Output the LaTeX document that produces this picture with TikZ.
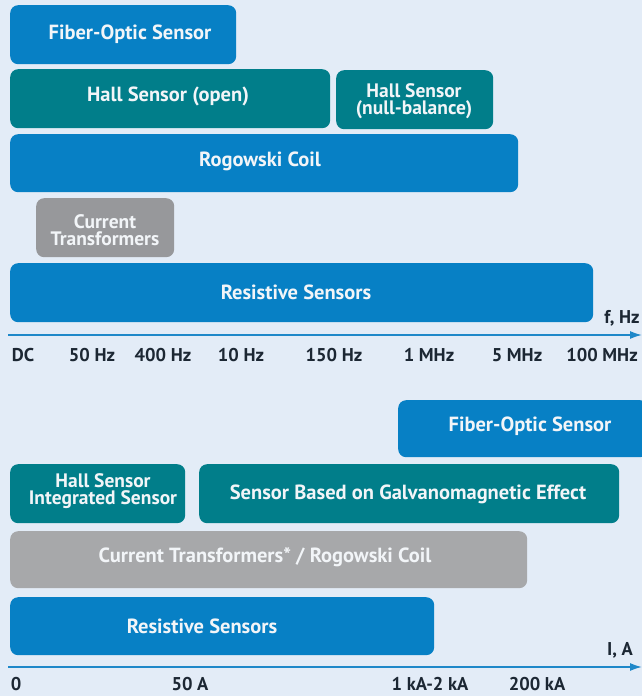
\documentclass[tikz,border=0pt]{standalone}
\usepackage{fontspec}
\setmainfont{PT Sans}
\usetikzlibrary{arrows.meta}
\definecolor{bg}{HTML}{E3ECF7}
\definecolor{cblue}{HTML}{0780C5}
\definecolor{cteal}{HTML}{017E8A}
\definecolor{cgrayA}{HTML}{97989B}
\definecolor{cgrayB}{HTML}{A7A8AA}
\definecolor{caxis}{HTML}{1E88C9}
\definecolor{ctext}{HTML}{1C2733}
\definecolor{cwhite}{HTML}{F2F5F8}
\tikzset{
  box/.style={rounded corners=8pt, inner sep=0pt, anchor=north west, draw=none},
  lbl/.style={text=cwhite, font=\bfseries\fontsize{20.5}{20}\selectfont, align=center, inner sep=0pt},
  lbltwo/.style={text=cwhite, font=\bfseries\fontsize{19.5}{16.5}\selectfont, align=center, inner sep=0pt},
  tick/.style={text=ctext, font=\bfseries\fontsize{18.5}{19}\selectfont, inner sep=0pt},
  axisline/.style={draw=caxis, line width=1.6pt, -{Latex[length=12pt,width=8pt]}}
}
\begin{document}
\begin{tikzpicture}[x=1pt,y=-1pt]
\fill[bg] (0,0) rectangle (642,696);
\useasboundingbox (0,0) rectangle (642,696);
% ---- frequency section
\node[box, fill=cblue, minimum width=226pt, minimum height=59pt] (fo1) at (10,5) {};
\node[lbl] (fo1t) at (130,34) {Fiber-Optic Sensor};
\node[box, fill=cteal, minimum width=320pt, minimum height=59pt] (ho) at (10,69) {};
\node[lbl] (hot) at (168,96) {Hall Sensor (open)};
\node[box, fill=cteal, minimum width=157pt, minimum height=59pt] (hn) at (336,70) {};
\node[lbltwo] (hnt) at (414,101) {Hall Sensor\\(null-balance)};
\node[box, fill=cblue, minimum width=508pt, minimum height=58pt] (rc) at (10,134) {};
\node[lbl] (rct) at (260,161) {Rogowski Coil};
\node[box, fill=cgrayA, minimum width=138pt, minimum height=59pt] (ct) at (36,198) {};
\node[lbltwo] (ctt) at (105,230) {Current\\Transformers};
\node[box, fill=cblue, minimum width=583pt, minimum height=59pt] (rs1) at (10,263) {};
\node[lbl] (rs1t) at (296,292) {Resistive Sensors};
\coordinate (f0) at (8,335);
\coordinate (f1) at (642,335);
\draw[axisline] (f0) -- (f1);
\node[tick] (fl) at (622,318) {f, Hz};
\node[tick] (t1) at (23,355) {DC};
\node[tick] (t2) at (92,355) {50 Hz};
\node[tick] (t3) at (163,355) {400 Hz};
\node[tick] (t4) at (241,355) {10 Hz};
\node[tick] (t5) at (334,355) {150 Hz};
\node[tick] (t6) at (429,355) {1 MHz};
\node[tick] (t7) at (517,355) {5 MHz};
\node[tick] (t8) at (602,355) {100 MHz};
% ---- current section
\node[box, fill=cblue, minimum width=250pt, minimum height=57pt] (fo2) at (398,400) {};
\node[lbl] (fo2t) at (530,426) {Fiber-Optic Sensor};
\node[box, fill=cteal, minimum width=175pt, minimum height=59pt] (hi) at (10,464) {};
\node[lbltwo] (hit) at (103,491) {Hall Sensor\\Integrated Sensor};
\node[box, fill=cteal, minimum width=420pt, minimum height=59pt] (gm) at (199,464) {};
\node[lbl] (gmt) at (408,494) {Sensor Based on Galvanomagnetic Effect};
\node[box, fill=cgrayB, minimum width=517pt, minimum height=57pt] (cr) at (10,531) {};
\node[lbl] (crt) at (265,557) {Current Transformers* / Rogowski Coil};
\node[box, fill=cblue, minimum width=424pt, minimum height=58pt] (rs2) at (10,597) {};
\node[lbl] (rs2t) at (202,626) {Resistive Sensors};
\coordinate (i0) at (8,667);
\coordinate (i1) at (642,667);
\draw[axisline] (i0) -- (i1);
\node[tick] (il) at (620,650) {I, A};
\node[tick] (u1) at (16,684) {0};
\node[tick] (u2) at (190,684) {50 A};
\node[tick] (u3) at (430,684) {1 kA-2 kA};
\node[tick] (u4) at (537,684) {200 kA};
\end{tikzpicture}
\end{document}
